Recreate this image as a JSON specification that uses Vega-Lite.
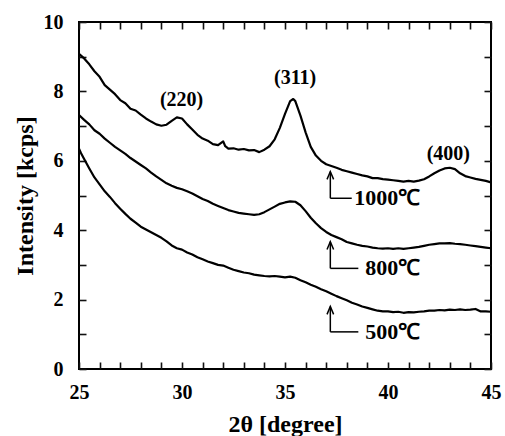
{
  "$schema": "https://vega.github.io/schema/vega-lite/v6.json",
  "autosize": {"type": "none"},
  "padding": {"left": 79, "top": 22, "right": 14, "bottom": 67},
  "width": 412,
  "height": 347,
  "background": "white",
  "config": {
    "view": {"stroke": "black", "strokeWidth": 2},
    "font": "Liberation Serif",
    "axis": {
      "labelFont": "Liberation Serif", "labelFontWeight": "bold", "labelColor": "black",
      "titleFont": "Liberation Serif", "titleFontWeight": "bold", "titleColor": "black",
      "tickWidth": 1.6, "tickSize": 7, "domain": false, "grid": false
    }
  },
  "datasets": {
    "curves": [
      {"t":"1000","x":25.0,"y":9.08},{"t":"1000","x":25.25,"y":8.95},{"t":"1000","x":25.5,"y":8.78},{"t":"1000","x":25.75,"y":8.58},
      {"t":"1000","x":26.0,"y":8.42},{"t":"1000","x":26.25,"y":8.18},{"t":"1000","x":26.5,"y":8.05},{"t":"1000","x":26.75,"y":7.92},
      {"t":"1000","x":27.0,"y":7.75},{"t":"1000","x":27.25,"y":7.66},{"t":"1000","x":27.5,"y":7.50},{"t":"1000","x":27.75,"y":7.45},
      {"t":"1000","x":28.0,"y":7.33},{"t":"1000","x":28.25,"y":7.22},{"t":"1000","x":28.5,"y":7.13},{"t":"1000","x":28.75,"y":7.05},
      {"t":"1000","x":29.0,"y":7.01},{"t":"1000","x":29.25,"y":7.04},{"t":"1000","x":29.5,"y":7.15},{"t":"1000","x":29.75,"y":7.25},
      {"t":"1000","x":30.0,"y":7.22},{"t":"1000","x":30.25,"y":7.05},{"t":"1000","x":30.5,"y":6.90},{"t":"1000","x":30.75,"y":6.75},
      {"t":"1000","x":31.0,"y":6.64},{"t":"1000","x":31.25,"y":6.58},{"t":"1000","x":31.5,"y":6.48},{"t":"1000","x":31.75,"y":6.45},
      {"t":"1000","x":32.0,"y":6.56},{"t":"1000","x":32.1,"y":6.42},{"t":"1000","x":32.25,"y":6.35},{"t":"1000","x":32.5,"y":6.36},
      {"t":"1000","x":32.75,"y":6.32},{"t":"1000","x":33.0,"y":6.34},{"t":"1000","x":33.25,"y":6.30},{"t":"1000","x":33.5,"y":6.31},
      {"t":"1000","x":33.75,"y":6.25},{"t":"1000","x":34.0,"y":6.32},{"t":"1000","x":34.25,"y":6.42},{"t":"1000","x":34.5,"y":6.62},
      {"t":"1000","x":34.75,"y":6.95},{"t":"1000","x":35.0,"y":7.35},{"t":"1000","x":35.25,"y":7.72},{"t":"1000","x":35.4,"y":7.78},
      {"t":"1000","x":35.5,"y":7.72},{"t":"1000","x":35.75,"y":7.30},{"t":"1000","x":36.0,"y":6.82},{"t":"1000","x":36.25,"y":6.40},
      {"t":"1000","x":36.5,"y":6.15},{"t":"1000","x":36.75,"y":6.00},{"t":"1000","x":37.0,"y":5.90},{"t":"1000","x":37.25,"y":5.85},
      {"t":"1000","x":37.5,"y":5.80},{"t":"1000","x":37.75,"y":5.74},{"t":"1000","x":38.0,"y":5.70},{"t":"1000","x":38.25,"y":5.66},
      {"t":"1000","x":38.5,"y":5.62},{"t":"1000","x":38.75,"y":5.58},{"t":"1000","x":39.0,"y":5.55},{"t":"1000","x":39.25,"y":5.50},
      {"t":"1000","x":39.5,"y":5.50},{"t":"1000","x":39.75,"y":5.47},{"t":"1000","x":40.0,"y":5.46},{"t":"1000","x":40.25,"y":5.44},
      {"t":"1000","x":40.5,"y":5.42},{"t":"1000","x":40.75,"y":5.40},{"t":"1000","x":41.0,"y":5.42},{"t":"1000","x":41.25,"y":5.40},
      {"t":"1000","x":41.5,"y":5.43},{"t":"1000","x":41.75,"y":5.47},{"t":"1000","x":42.0,"y":5.55},{"t":"1000","x":42.25,"y":5.64},
      {"t":"1000","x":42.5,"y":5.72},{"t":"1000","x":42.75,"y":5.78},{"t":"1000","x":43.0,"y":5.80},{"t":"1000","x":43.25,"y":5.76},
      {"t":"1000","x":43.5,"y":5.64},{"t":"1000","x":43.75,"y":5.56},{"t":"1000","x":44.0,"y":5.52},{"t":"1000","x":44.25,"y":5.48},
      {"t":"1000","x":44.5,"y":5.45},{"t":"1000","x":44.75,"y":5.42},{"t":"1000","x":45.0,"y":5.38},

      {"t":"800","x":25.0,"y":7.32},{"t":"800","x":25.25,"y":7.18},{"t":"800","x":25.5,"y":7.05},{"t":"800","x":25.75,"y":6.88},
      {"t":"800","x":26.0,"y":6.78},{"t":"800","x":26.25,"y":6.64},{"t":"800","x":26.5,"y":6.52},{"t":"800","x":26.75,"y":6.40},
      {"t":"800","x":27.0,"y":6.30},{"t":"800","x":27.25,"y":6.20},{"t":"800","x":27.5,"y":6.08},{"t":"800","x":27.75,"y":5.98},
      {"t":"800","x":28.0,"y":5.88},{"t":"800","x":28.25,"y":5.78},{"t":"800","x":28.5,"y":5.66},{"t":"800","x":28.75,"y":5.55},
      {"t":"800","x":29.0,"y":5.45},{"t":"800","x":29.25,"y":5.35},{"t":"800","x":29.5,"y":5.28},{"t":"800","x":29.75,"y":5.22},
      {"t":"800","x":30.0,"y":5.18},{"t":"800","x":30.25,"y":5.12},{"t":"800","x":30.5,"y":5.06},{"t":"800","x":30.75,"y":4.98},
      {"t":"800","x":31.0,"y":4.90},{"t":"800","x":31.25,"y":4.84},{"t":"800","x":31.5,"y":4.76},{"t":"800","x":31.75,"y":4.70},
      {"t":"800","x":32.0,"y":4.64},{"t":"800","x":32.25,"y":4.58},{"t":"800","x":32.5,"y":4.54},{"t":"800","x":32.75,"y":4.50},
      {"t":"800","x":33.0,"y":4.48},{"t":"800","x":33.25,"y":4.46},{"t":"800","x":33.5,"y":4.44},{"t":"800","x":33.75,"y":4.46},
      {"t":"800","x":34.0,"y":4.52},{"t":"800","x":34.25,"y":4.60},{"t":"800","x":34.5,"y":4.68},{"t":"800","x":34.75,"y":4.76},
      {"t":"800","x":35.0,"y":4.80},{"t":"800","x":35.25,"y":4.83},{"t":"800","x":35.5,"y":4.82},{"t":"800","x":35.75,"y":4.72},
      {"t":"800","x":36.0,"y":4.55},{"t":"800","x":36.25,"y":4.36},{"t":"800","x":36.5,"y":4.20},{"t":"800","x":36.75,"y":4.06},
      {"t":"800","x":37.0,"y":3.95},{"t":"800","x":37.25,"y":3.86},{"t":"800","x":37.5,"y":3.80},{"t":"800","x":37.75,"y":3.74},
      {"t":"800","x":38.0,"y":3.66},{"t":"800","x":38.25,"y":3.62},{"t":"800","x":38.5,"y":3.58},{"t":"800","x":38.75,"y":3.55},
      {"t":"800","x":39.0,"y":3.53},{"t":"800","x":39.25,"y":3.50},{"t":"800","x":39.5,"y":3.48},{"t":"800","x":39.75,"y":3.47},
      {"t":"800","x":40.0,"y":3.48},{"t":"800","x":40.25,"y":3.46},{"t":"800","x":40.5,"y":3.48},{"t":"800","x":40.75,"y":3.46},
      {"t":"800","x":41.0,"y":3.48},{"t":"800","x":41.25,"y":3.50},{"t":"800","x":41.5,"y":3.52},{"t":"800","x":41.75,"y":3.55},
      {"t":"800","x":42.0,"y":3.58},{"t":"800","x":42.25,"y":3.60},{"t":"800","x":42.5,"y":3.62},{"t":"800","x":42.75,"y":3.62},
      {"t":"800","x":43.0,"y":3.63},{"t":"800","x":43.25,"y":3.61},{"t":"800","x":43.5,"y":3.60},{"t":"800","x":43.75,"y":3.58},
      {"t":"800","x":44.0,"y":3.56},{"t":"800","x":44.25,"y":3.54},{"t":"800","x":44.5,"y":3.52},{"t":"800","x":44.75,"y":3.50},
      {"t":"800","x":45.0,"y":3.48},

      {"t":"500","x":25.0,"y":6.35},{"t":"500","x":25.1,"y":6.22},{"t":"500","x":25.25,"y":6.05},{"t":"500","x":25.5,"y":5.78},
      {"t":"500","x":25.75,"y":5.52},{"t":"500","x":26.0,"y":5.32},{"t":"500","x":26.25,"y":5.12},{"t":"500","x":26.5,"y":4.96},
      {"t":"500","x":26.75,"y":4.78},{"t":"500","x":27.0,"y":4.62},{"t":"500","x":27.25,"y":4.47},{"t":"500","x":27.5,"y":4.33},
      {"t":"500","x":27.75,"y":4.22},{"t":"500","x":28.0,"y":4.10},{"t":"500","x":28.25,"y":4.02},{"t":"500","x":28.5,"y":3.94},
      {"t":"500","x":28.75,"y":3.86},{"t":"500","x":29.0,"y":3.78},{"t":"500","x":29.25,"y":3.68},{"t":"500","x":29.5,"y":3.56},
      {"t":"500","x":29.75,"y":3.48},{"t":"500","x":30.0,"y":3.44},{"t":"500","x":30.25,"y":3.36},{"t":"500","x":30.5,"y":3.30},
      {"t":"500","x":30.75,"y":3.22},{"t":"500","x":31.0,"y":3.16},{"t":"500","x":31.25,"y":3.10},{"t":"500","x":31.5,"y":3.05},
      {"t":"500","x":31.75,"y":3.00},{"t":"500","x":32.0,"y":2.98},{"t":"500","x":32.25,"y":2.92},{"t":"500","x":32.5,"y":2.86},
      {"t":"500","x":32.75,"y":2.82},{"t":"500","x":33.0,"y":2.78},{"t":"500","x":33.25,"y":2.76},{"t":"500","x":33.5,"y":2.72},
      {"t":"500","x":33.75,"y":2.70},{"t":"500","x":34.0,"y":2.68},{"t":"500","x":34.25,"y":2.67},{"t":"500","x":34.5,"y":2.68},
      {"t":"500","x":34.75,"y":2.66},{"t":"500","x":35.0,"y":2.64},{"t":"500","x":35.25,"y":2.66},{"t":"500","x":35.5,"y":2.63},
      {"t":"500","x":35.75,"y":2.56},{"t":"500","x":36.0,"y":2.50},{"t":"500","x":36.25,"y":2.43},{"t":"500","x":36.5,"y":2.37},
      {"t":"500","x":36.75,"y":2.30},{"t":"500","x":37.0,"y":2.24},{"t":"500","x":37.25,"y":2.17},{"t":"500","x":37.5,"y":2.10},
      {"t":"500","x":37.75,"y":2.04},{"t":"500","x":38.0,"y":1.98},{"t":"500","x":38.25,"y":1.91},{"t":"500","x":38.5,"y":1.86},
      {"t":"500","x":38.75,"y":1.80},{"t":"500","x":39.0,"y":1.76},{"t":"500","x":39.25,"y":1.72},{"t":"500","x":39.5,"y":1.68},
      {"t":"500","x":39.75,"y":1.66},{"t":"500","x":40.0,"y":1.66},{"t":"500","x":40.25,"y":1.64},{"t":"500","x":40.5,"y":1.65},
      {"t":"500","x":40.75,"y":1.62},{"t":"500","x":41.0,"y":1.64},{"t":"500","x":41.25,"y":1.63},{"t":"500","x":41.5,"y":1.65},
      {"t":"500","x":41.75,"y":1.66},{"t":"500","x":42.0,"y":1.68},{"t":"500","x":42.25,"y":1.68},{"t":"500","x":42.5,"y":1.70},
      {"t":"500","x":42.75,"y":1.69},{"t":"500","x":43.0,"y":1.71},{"t":"500","x":43.25,"y":1.70},{"t":"500","x":43.5,"y":1.72},
      {"t":"500","x":43.75,"y":1.70},{"t":"500","x":44.0,"y":1.71},{"t":"500","x":44.25,"y":1.73},{"t":"500","x":44.5,"y":1.66},
      {"t":"500","x":44.75,"y":1.66},{"t":"500","x":45.0,"y":1.65}
    ],
    "peaks": [
      {"label":"(220)","x":29.98,"y":7.75},
      {"label":"(311)","x":35.49,"y":8.38},
      {"label":"(400)","x":42.93,"y":6.2}
    ],
    "arrows": [
      {"label":"1000℃","x":37.2,"x2":38.24,"xl":38.36,"y":4.92,"ytop":5.69},
      {"label":"800℃","x":37.2,"x2":38.56,"xl":38.9,"y":2.90,"ytop":3.67},
      {"label":"500℃","x":37.2,"x2":38.56,"xl":38.9,"y":1.07,"ytop":1.80}
    ]
  },
  "resolve": {"axis": {"x": "independent", "y": "independent"}},
  "layer": [
    {
      "data": {"name": "curves"},
      "mark": {"type": "line", "color": "black", "strokeWidth": 2.2, "strokeJoin": "round"},
      "encoding": {
        "x": {"field": "x", "type": "quantitative",
              "scale": {"domain": [25, 45], "nice": false, "zero": false},
              "axis": {"orient": "bottom", "values": [25,30,35,40,45], "tickSize": 0,
                       "labelFontSize": 20, "labelPadding": 13, "labelFlush": false,
                       "title": "2θ [degree]", "titleFontSize": 24, "titlePadding": 10}},
        "y": {"field": "y", "type": "quantitative",
              "scale": {"domain": [0, 10], "nice": false},
              "axis": {"orient": "left", "values": [0,2,4,6,8,10], "tickSize": 0,
                       "labelFontSize": 20, "labelPadding": 16, "labelFlush": false,
                       "title": "Intensity [kcps]", "titleFontSize": 24, "titlePadding": 6}},
        "detail": {"field": "t"}
      }
    },
    {
      "data": {"name": "peaks"},
      "mark": {"type": "text", "font": "Liberation Serif", "fontWeight": "bold", "fontSize": 20, "align": "center", "baseline": "middle", "color": "black"},
      "encoding": {
        "x": {"field": "x", "type": "quantitative",
              "axis": {"orient": "top", "offset": -347, "tickColor": "#111111", "values": [25,26,27,28,29,30,31,32,33,34,35,36,37,38,39,40,41,42,43,44,45], "labelOpacity": 0, "title": null}},
        "y": {"field": "y", "type": "quantitative",
              "axis": {"orient": "right", "offset": -412, "tickColor": "#111111", "values": [0,1,2,3,4,5,6,7,8,9,10], "labelOpacity": 0, "title": null}},
        "text": {"field": "label"}
      }
    },
    {
      "data": {"name": "arrows"},
      "mark": {"type": "rule", "color": "black", "strokeWidth": 1.5},
      "encoding": {
        "x": {"field": "x", "type": "quantitative",
              "axis": {"orient": "bottom", "offset": -347, "tickColor": "#111111", "values": [25,26,27,28,29,30,31,32,33,34,35,36,37,38,39,40,41,42,43,44,45], "labelOpacity": 0, "title": null}},
        "y": {"field": "y", "type": "quantitative",
              "axis": {"orient": "left", "offset": -412, "tickColor": "#111111", "values": [0,1,2,3,4,5,6,7,8,9,10], "labelOpacity": 0, "title": null}},
        "y2": {"field": "ytop"}
      }
    },
    {
      "data": {"name": "arrows"},
      "mark": {"type": "rule", "color": "black", "strokeWidth": 1.5},
      "encoding": {
        "x": {"field": "x", "type": "quantitative", "axis": null},
        "x2": {"field": "x2"},
        "y": {"field": "y", "type": "quantitative", "axis": null}
      }
    },
    {
      "data": {"name": "arrows"},
      "mark": {"type": "point", "shape": "M-1.1,2.6L0,0L1.1,2.6", "filled": false, "stroke": "black", "strokeWidth": 1.5, "size": 36, "opacity": 1},
      "encoding": {
        "x": {"field": "x", "type": "quantitative", "axis": null},
        "y": {"field": "ytop", "type": "quantitative", "axis": null}
      }
    },
    {
      "data": {"name": "arrows"},
      "mark": {"type": "text", "font": "Liberation Serif", "fontWeight": "bold", "fontSize": 22, "align": "left", "baseline": "middle", "color": "black"},
      "encoding": {
        "x": {"field": "xl", "type": "quantitative", "axis": null},
        "y": {"field": "y", "type": "quantitative", "axis": null},
        "text": {"field": "label"}
      }
    }
  ]
}
